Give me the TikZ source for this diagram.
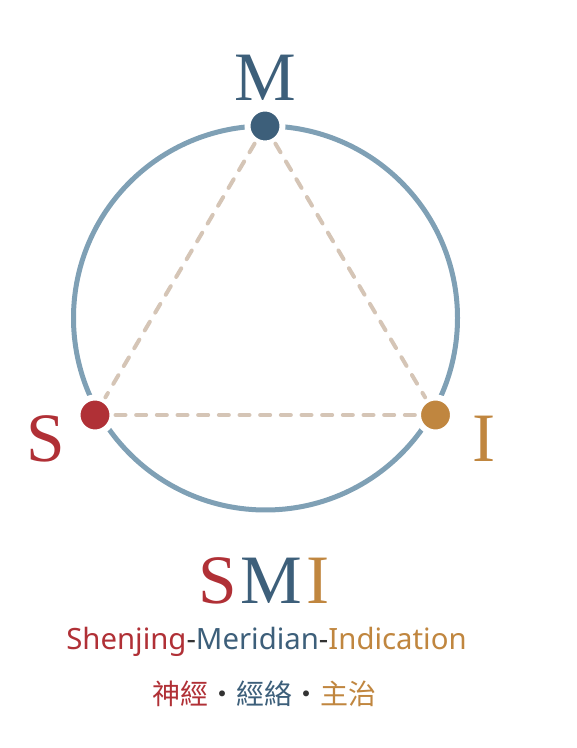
\documentclass[tikz,border=0pt]{standalone}
\usepackage{fontspec}
\setmainfont{Liberation Serif}
\newfontfamily\labelfont{Noto Sans}
\newfontfamily\cjkfont{Noto Sans CJK TC}
\usetikzlibrary{positioning}

\definecolor{smiRed}{HTML}{B03036}
\definecolor{smiBlue}{HTML}{3D5F7A}
\definecolor{smiOrange}{HTML}{C0863F}
\definecolor{smiRing}{HTML}{7FA0B5}
\definecolor{smiDash}{HTML}{D5C5B6}
\definecolor{smiDark}{HTML}{333333}

\begin{document}
\begin{tikzpicture}[x=0.75pt,y=0.75pt,
	smidot/.style={circle,fill=#1,draw=white,line width=4.5pt,minimum size=26.25pt,inner sep=0pt},
	vlabel/.style={anchor=base,text=#1,font=\fontsize{52}{52}\selectfont},
	link/.style={draw=smiDash,line width=3pt,dash pattern=on 7.5pt off 8pt,line cap=round}]
	\useasboundingbox (0,0) rectangle (577,748);
	%% ring
	\draw[smiRing,line width=3.75pt] (265.5,430) circle (192);
	%% vertices
	\node[smidot=smiBlue] (M) at (265,622) {};
	\node[smidot=smiRed] (S) at (95,333) {};
	\node[smidot=smiOrange] (I) at (435.5,333) {};
	\draw[link] (M) -- (S);
	\draw[link] (M) -- (I);
	\draw[link] (S) -- (I);
	%% vertex labels
	\node[vlabel=smiBlue] (labelM) at (265,647) {M};
	\node[vlabel=smiRed] (labelS) at (46,286) {S};
	\node[vlabel=smiOrange] (labelI) at (484,286) {I};
	%% title
	\node[anchor=base,font=\fontsize{52}{52}\selectfont] (title) at (264,144)
		{\textcolor{smiRed}{S}\kern3pt\textcolor{smiBlue}{M}\kern3pt\textcolor{smiOrange}{I}};
	\node[anchor=base,font=\labelfont\fontsize{22}{22}\selectfont] (subtitle) at (266.5,98)
		{\textcolor{smiRed}{Shenjing}\textcolor{smiDark}{-}\textcolor{smiBlue}{Meridian}\textcolor{smiDark}{-}\textcolor{smiOrange}{Indication}};
	\node[anchor=base,font=\cjkfont\fontsize{21}{21}\selectfont] (subtitleZh) at (264,43)
		{\textcolor{smiRed}{神經}\textcolor{smiDark}{・}\textcolor{smiBlue}{經絡}\textcolor{smiDark}{・}\textcolor{smiOrange}{主治}};
\end{tikzpicture}
\end{document}
